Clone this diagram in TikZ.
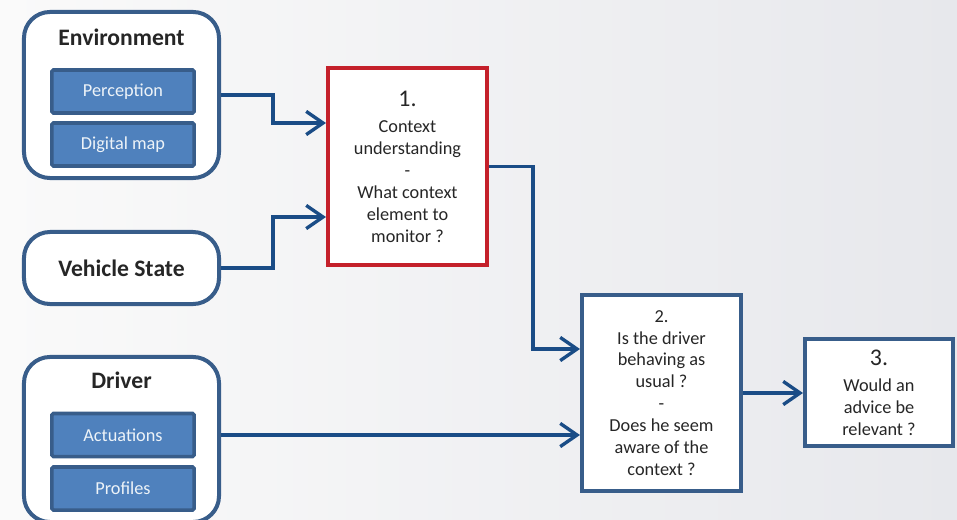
\documentclass[tikz,border=0pt]{standalone}
\usepackage{fontspec}
\setmainfont{Carlito}
\usetikzlibrary{arrows.meta}
\definecolor{frameblue}{RGB}{56,93,138}
\definecolor{fillblue}{RGB}{79,129,189}
\definecolor{lineblue}{RGB}{26,76,134}
\definecolor{framered}{RGB}{196,32,42}
\definecolor{textgray}{RGB}{38,38,38}
\definecolor{bgleft}{RGB}{250,250,250}
\definecolor{bgright}{RGB}{231,232,236}
\begin{document}
\begin{tikzpicture}[x=0.025cm,y=-0.025cm,
    every node/.style={text=textgray,align=center,font=\fontsize{13}{15.6}\selectfont},
    group/.style={draw=frameblue,line width=2.85pt,rounded corners=0.65cm,fill=white,minimum width=4.875cm},
    inner/.style={draw=frameblue,line width=2.5pt,rounded corners=1pt,fill=fillblue,text=white!90!fillblue,minimum width=3.55cm,minimum height=1.075cm},
    stepbox/.style={draw=frameblue,line width=2.85pt,fill=white,inner sep=0pt},
    title/.style={font=\fontsize{16.8}{20}\bfseries\selectfont},
    flow/.style={draw=lineblue,line width=2.4pt,-{Straight Barb[length=0.42cm,width=0.58cm]}}]
  \newcommand{\bignum}[1]{{\fontsize{17}{20}\selectfont #1}\\[3pt]}
  \useasboundingbox (0,0) rectangle (957,519);
  \clip (0,0) rectangle (957,519);
  \shade[left color=bgleft,right color=bgright] (0,0) rectangle (957,519);

  \node[group,minimum height=4.15cm] (env) at (121.5,95) {};
  \node[group,minimum height=1.8cm] (veh) at (121.5,268) {};
  \node[group,minimum height=4.125cm] (drv) at (121.5,439.5) {};
  \node[title] at (121.5,37) {Environment};
  \node[title] at (121.5,268) {Vehicle State};
  \node[title] at (121.5,380) {Driver};
  \foreach \name/\txt/\y in {perc/Perception/91.5,dmap/Digital map/144.5,act/Actuations/435,prof/Profiles/488.5}
    \node[inner] (\name) at (123,\y) {\txt};

  \node[stepbox,draw=framered,minimum width=3.975cm,minimum height=4.925cm] (ctx) at (407.5,166.5)
    {\bignum{1.}Context\\understanding\\-\\What context\\element to\\monitor ?};
  \node[stepbox,minimum width=3.975cm,minimum height=4.9cm] (usual) at (661.5,393)
    {2.\\Is the driver\\behaving as\\usual ?\\-\\Does he seem\\aware of the\\context ?};
  \node[stepbox,minimum width=3.7cm,minimum height=2.675cm] (advice) at (879,392.5)
    {\bignum{3.}Would an\\advice be\\relevant ?};

  \draw[flow] (env.east) -- ++(52,0) |- (ctx.west |- 0,123);
  \draw[flow] (veh.east) -- ++(52,0) |- (ctx.west |- 0,217);
  \draw[flow] (ctx.east) -- ++(44,0) |- (usual.west |- 0,349);
  \draw[flow] (act -| drv.east) -- (act -| usual.west);
  \draw[flow] (usual.east) -- (usual.east -| advice.west);
\end{tikzpicture}
\end{document}
